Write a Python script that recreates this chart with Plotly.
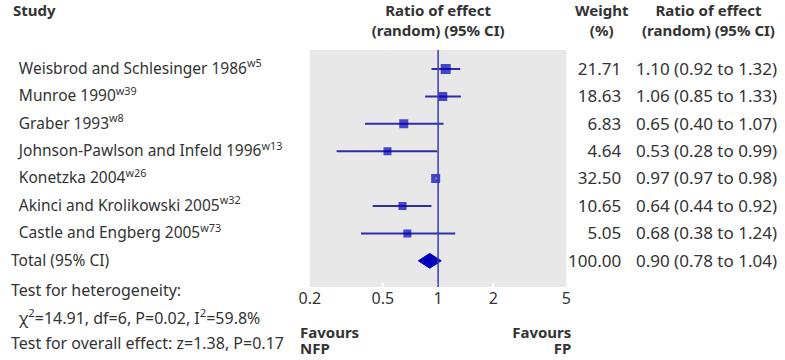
import math
import plotly.graph_objects as go

studies = ["Weisbrod and Schlesinger 1986", "Munroe 1990", "Graber 1993",
           "Johnson-Pawlson and Infeld 1996", "Konetzka 2004",
           "Akinci and Krolikowski 2005", "Castle and Engberg 2005"]
refs = ["w5", "w39", "w8", "w13", "w26", "w32", "w73"]
ratio = [1.10, 1.06, 0.65, 0.53, 0.97, 0.64, 0.68]
lo = [0.92, 0.85, 0.40, 0.28, 0.97, 0.44, 0.38]
hi = [1.32, 1.33, 1.07, 0.99, 0.98, 0.92, 1.24]
weight = [21.71, 18.63, 6.83, 4.64, 32.50, 10.65, 5.05]
box_size = [10, 9, 9, 8, 9, 8, 8]

total_ratio, total_lo, total_hi, total_weight = 0.90, 0.78, 1.04, 100.00
tick_vals = [0.2, 0.5, 1, 2, 5]
tick_text = ["0.2", "0.5", "1", "2", "5"]

W, H = 785, 360
FONT = "Noto Sans"
TXT = "#333333"
LINE = "#2e2ea8"
MARK = "#0000bb"

row_top, row_step = 69, 27.4
PL, PR, PT, PB = 305, 567, 50, 287   # plot-area box in pixels


def rowpx(r):
    return row_top + row_step * r


fig = go.Figure()
rows = list(range(len(studies)))

# CI lines
for i in rows:
    fig.add_trace(go.Scatter(x=[lo[i], hi[i]], y=[i, i], mode="lines",
                             line=dict(color=LINE, width=2), hoverinfo="skip",
                             showlegend=False))
# boxes
fig.add_trace(go.Scatter(x=ratio, y=rows, mode="markers",
                         marker=dict(symbol="square", size=box_size, color=MARK,
                                     line=dict(width=0)),
                         showlegend=False))
# CI drawn white when it fits inside its box
for i in rows:
    if math.log10(hi[i] / lo[i]) < 0.02:
        fig.add_trace(go.Scatter(x=[lo[i], hi[i]], y=[i, i], mode="lines",
                                 line=dict(color="white", width=2),
                                 hoverinfo="skip", showlegend=False))
# pooled diamond
trow = len(studies)
dh = 0.27
fig.add_trace(go.Scatter(x=[total_lo, total_ratio, total_hi, total_ratio, total_lo],
                         y=[trow, trow - dh, trow, trow + dh, trow],
                         mode="lines", fill="toself", fillcolor=MARK,
                         line=dict(color=MARK, width=1), showlegend=False))

# plot background and line of no effect
fig.add_shape(type="rect", xref="x domain", yref="y domain", x0=0, x1=1, y0=0, y1=1,
              fillcolor="#e8e8e8", line=dict(width=0), layer="below")
fig.add_shape(type="line", xref="x", yref="y domain", x0=1, x1=1, y0=0, y1=1,
              line=dict(color="#3a3ab8", width=1.5), layer="above")


# text placed in a full-figure pixel overlay (x2/y2)
def T(text, x, y, pos="middle right", size=15.5, bold=False):
    if bold:
        text = "<b>" + text + "</b>"
    fig.add_trace(go.Scatter(x=[x], y=[y], text=[text], mode="text",
                             textposition=pos, xaxis="x2", yaxis="y2",
                             cliponaxis=False, hoverinfo="skip", showlegend=False,
                             textfont=dict(family=FONT, size=size, color=TXT)))


NUM = 17
L, R, C = "middle right", "middle left", "middle center"

# headers
T("Study", 2, 12.5, bold=True, size=15)
for cx, l1, l2 in [(436, "Ratio of effect", "(random) (95% CI)"),
                   (603, "Weight", "(%)"),
                   (712, "Ratio of effect", "(random) (95% CI)")]:
    T(l1, cx, 12, C, bold=True, size=15)
    T(l2, cx, 32, C, bold=True, size=15)

for i in rows:
    T(f"{studies[i]}<sup>{refs[i]}</sup>", 8, rowpx(i) + 1)
    T(f"{weight[i]:.2f}", 623, rowpx(i) + 1.5, R, size=NUM)
    T(f"{ratio[i]:.2f} ({lo[i]:.2f} to {hi[i]:.2f})", 782, rowpx(i) + 1.5, R, size=NUM)

T("Total (95% CI)", 0, rowpx(trow) + 1)
T(f"{total_weight:.2f}", 623, rowpx(trow) + 1.5, R, size=NUM)
T(f"{total_ratio:.2f} ({total_lo:.2f} to {total_hi:.2f})", 782, rowpx(trow) + 1.5, R,
  size=NUM)

T("Test for heterogeneity:", 0, 291.5, size=16)
T("χ<sup>2</sup>=14.91, df=6, P=0.02, I<sup>2</sup>=59.8%", 8, 320, size=16)
T("Test for overall effect: z=1.38, P=0.17", 0, 344.5, size=16)

T("Favours", 295, 334, bold=True, size=15)
T("NFP", 295, 350.5, bold=True, size=15)
T("Favours", 572, 334, R, bold=True, size=15)
T("FP", 572, 350.5, R, bold=True, size=15)

yr0 = (PB - row_top) / row_step
yr1 = (PT - row_top) / row_step

fig.update_layout(
    width=W, height=H, margin=dict(l=0, r=0, t=0, b=0),
    paper_bgcolor="white", plot_bgcolor="rgba(0,0,0,0)",
    showlegend=False,
    font=dict(family=FONT, color=TXT),
    xaxis=dict(type="log", range=[math.log10(0.2), math.log10(5)],
               domain=[PL / W, PR / W], tickvals=tick_vals, ticktext=tick_text,
               ticks="inside", ticklen=4, tickcolor="white", tickwidth=1.5,
               showgrid=False, zeroline=False, showline=False,
               tickfont=dict(family=FONT, size=16, color=TXT), fixedrange=True),
    yaxis=dict(range=[yr0, yr1], domain=[1 - PB / H, 1 - PT / H], showticklabels=False,
               showgrid=False, zeroline=False, showline=False, ticks="",
               fixedrange=True),
    xaxis2=dict(domain=[0, 1], range=[0, W], anchor="y2", visible=False,
                fixedrange=True),
    yaxis2=dict(domain=[0, 1], range=[H, 0], anchor="x2", visible=False,
                fixedrange=True),
)

fig.write_html("out.html", config={"displayModeBar": False},
               post_script="document.body.style.margin='0';document.body.style.overflow='hidden';")
